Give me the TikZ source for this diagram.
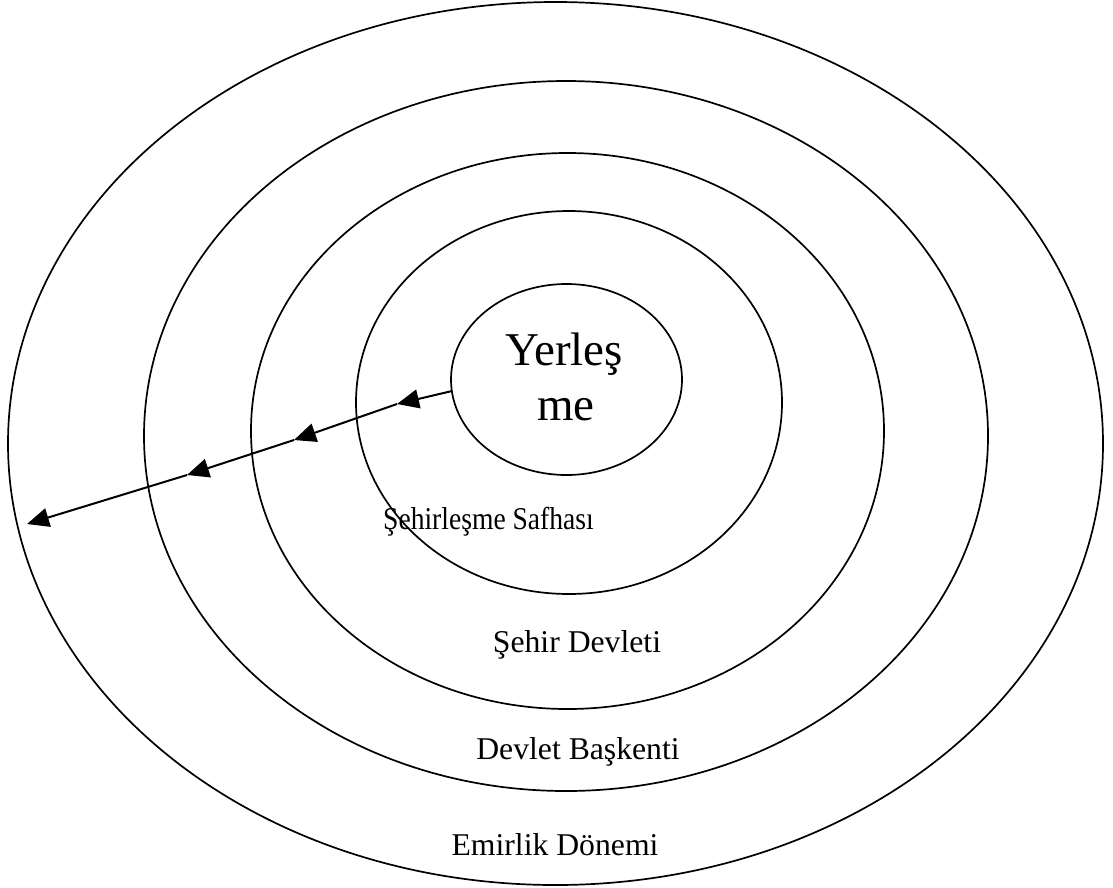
\documentclass[tikz,border=0pt]{standalone}
\usepackage{fontspec}
\setmainfont{Liberation Serif}
\usetikzlibrary{shapes.geometric,arrows.meta}
\tikzset{
  ring/.style={draw=black, line width=1.7pt, ellipse, inner sep=0pt, outer sep=0pt},
  lbl/.style={anchor=base, inner sep=0pt, font=\fontsize{31.7}{38}\selectfont},
  narrowlbl/.style={lbl, xscale=0.87, transform shape},
  biglbl/.style={anchor=base, inner sep=0pt, font=\fontsize{47}{55}\selectfont},
  flow/.style={line width=2pt, -{Triangle[length=22pt,width=19pt]}}
}
\begin{document}
\begin{tikzpicture}[x=1pt,y=-1pt]
\useasboundingbox (0,0) rectangle (1113,887);
% rings
\node[ring, minimum width=1095pt, minimum height=883pt] (r5) at (555.5,443.5) {};
\node[ring, minimum width=844pt, minimum height=710pt] (r4) at (566,436) {};
\node[ring, minimum width=633pt, minimum height=556pt] (r3) at (567.5,431) {};
\node[ring, minimum width=426pt, minimum height=383pt] (r2) at (569,402.5) {};
\node[ring, minimum width=231pt, minimum height=191pt] (r1) at (566.5,379.5) {};
% labels
\node[biglbl] (l1a) at (564,365) {Yerleş};
\node[biglbl] (l1b) at (566,420) {me};
\node[narrowlbl] (l2) at (488.5,529) {Şehirleşme Safhası};
\node[lbl] (l3) at (577,652) {Şehir Devleti};
\node[lbl] (l4) at (578,759) {Devlet Başkenti};
\node[lbl] (l5) at (555,855) {Emirlik Dönemi};
% arrows
\coordinate (s0) at (452,391);
\coordinate (t1) at (397,404);
\coordinate (t2) at (294,440);
\coordinate (t3) at (187,475);
\coordinate (t4) at (27,524);
\draw[flow] (s0) -- (t1);
\draw[flow] (t1) -- (t2);
\draw[flow] (t2) -- (t3);
\draw[flow] (t3) -- (t4);
\end{tikzpicture}
\end{document}
